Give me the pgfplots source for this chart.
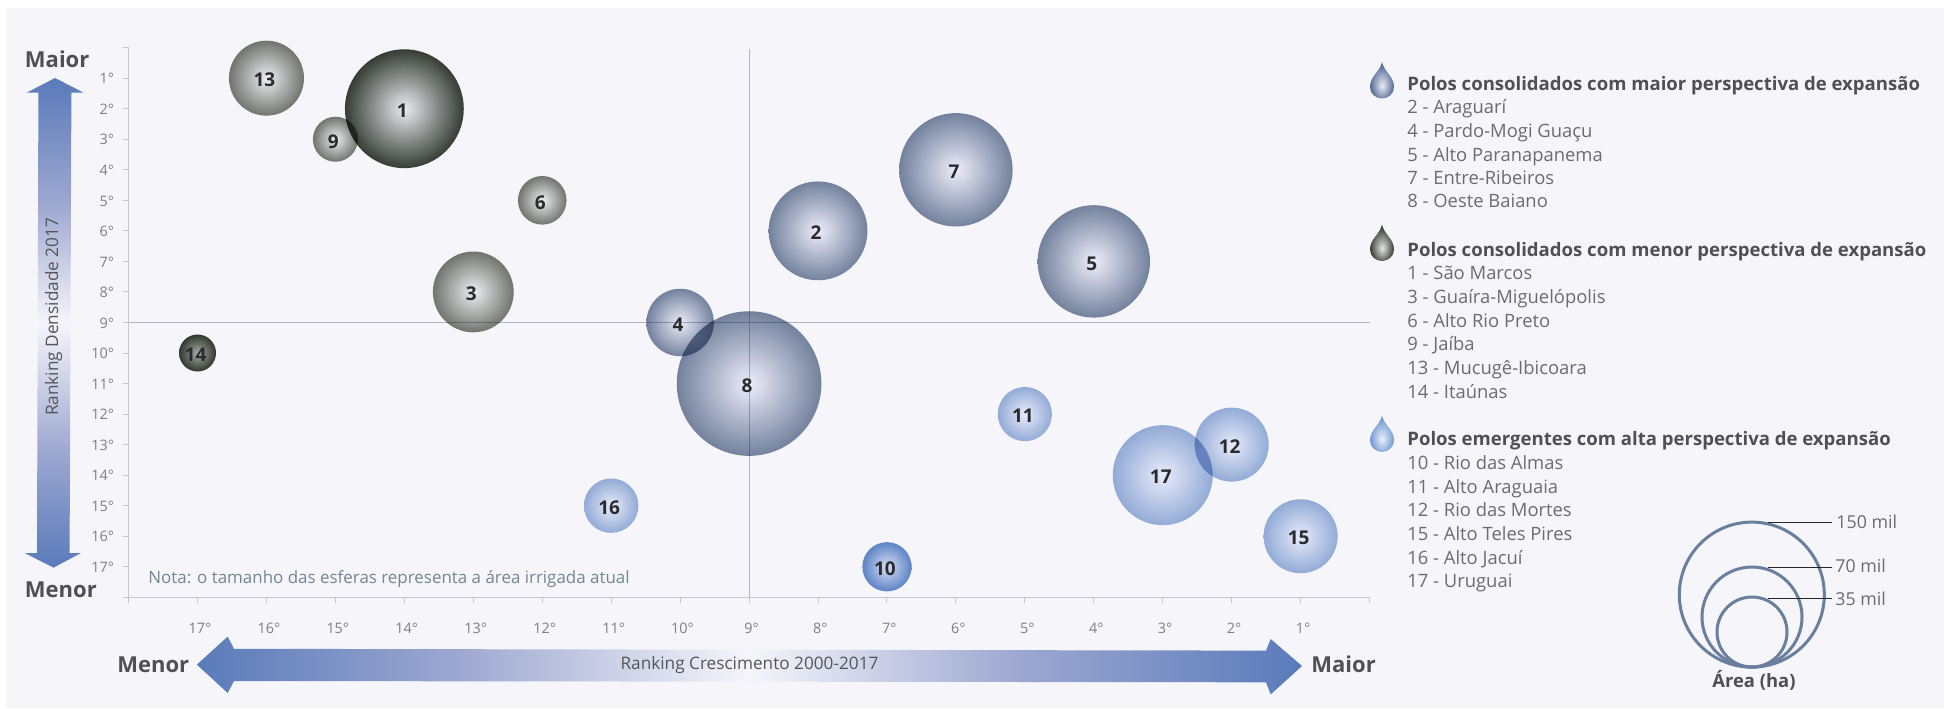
\documentclass[border=0pt]{standalone}
\usepackage{fontspec}
\setmainfont{Open Sans}
\usepackage{pgfplots}
\pgfplotsset{compat=1.18}
\usepackage{pgfplotstable}

\definecolor{panel}{HTML}{F5F5FA}
\definecolor{spine}{HTML}{C8C8D0}
\definecolor{cross}{HTML}{B4B6C2}
\definecolor{ticktxt}{HTML}{808080}
\definecolor{head}{HTML}{505054}
\definecolor{item}{HTML}{6C6C70}
\definecolor{nota}{HTML}{74868F}
\definecolor{lab}{HTML}{2B2B2E}
\definecolor{ring}{HTML}{6A7F9E}

% radial shadings: the circle's rim sits at 25bp
\newcommand{\radial}[8]{\pgfdeclareradialshading{#1}{\pgfpointorigin}{rgb(0bp)=(#2,#3,#4); rgb(25bp)=(#5,#6,#7); rgb(50bp)=(#5,#6,#7)}
  \pgfdeclareplotmark{#8}{\pgfsetblendmode{multiply}\pgfpathcircle{\pgfpointorigin}{\pgfplotmarksize}\pgfshadepath{#1}{0}\pgfusepath{discard}}}
\radial{shgrey}{0.97}{0.97}{0.97}{0.46}{0.48}{0.44}{bgrey}
\radial{shblack}{0.96}{0.96}{0.96}{0.22}{0.25}{0.21}{bblack}
\radial{shtiny}{0.68}{0.70}{0.66}{0.20}{0.23}{0.19}{btiny}
\radial{shnavy}{0.97}{0.97}{1}{0.47}{0.53}{0.63}{bnavy}
\radial{shsky}{0.95}{0.96}{1}{0.60}{0.70}{0.86}{bsky}
\radial{shdeep}{0.88}{0.91}{0.98}{0.38}{0.54}{0.79}{bdeep}

% drops: the light spot sits low in the drop
\pgfdeclareradialshading{gnavy}{\pgfpoint{0bp}{-8bp}}{rgb(0bp)=(0.92,0.92,0.96); rgb(25bp)=(0.33,0.42,0.58); rgb(50bp)=(0.33,0.42,0.58)}
\pgfdeclareradialshading{gblack}{\pgfpoint{0bp}{-8bp}}{rgb(0bp)=(0.90,0.90,0.90); rgb(25bp)=(0.22,0.25,0.21); rgb(50bp)=(0.22,0.25,0.21)}
\pgfdeclareradialshading{gsky}{\pgfpoint{0bp}{-8bp}}{rgb(0bp)=(0.92,0.94,0.98); rgb(25bp)=(0.45,0.60,0.83); rgb(50bp)=(0.45,0.60,0.83)}

% arrows: blue at the ends, near white in the middle
\pgfdeclareverticalshading{arrv}{100bp}{rgb(0bp)=(0.35,0.48,0.73); rgb(25bp)=(0.35,0.48,0.73); rgb(37bp)=(0.62,0.66,0.82); rgb(50bp)=(0.96,0.96,0.98); rgb(62bp)=(0.62,0.66,0.82); rgb(75bp)=(0.35,0.48,0.73); rgb(100bp)=(0.35,0.48,0.73)}
\pgfdeclarehorizontalshading{arrh}{100bp}{rgb(0bp)=(0.35,0.48,0.73); rgb(25bp)=(0.35,0.48,0.73); rgb(37bp)=(0.62,0.66,0.82); rgb(50bp)=(0.96,0.96,0.98); rgb(62bp)=(0.62,0.66,0.82); rgb(75bp)=(0.35,0.48,0.73); rgb(100bp)=(0.35,0.48,0.73)}

% x rank, y rank, radius in pt (1 px of the reference = 0.5 pt)
\pgfplotstableread{
x y r
16 1 18.75
15 3 11.25
12 5 12.15
13 8 20.2
}\polosgrey
\pgfplotstableread{
x y r
14 2 29.7
}\polosblack
\pgfplotstableread{
x y r
17 10 9.25
}\polostiny
\pgfplotstableread{
x y r
8 6 24.7
10 9 16.85
6 4 28.35
4 7 28.1
9 11 36.15
}\polosnavy
\pgfplotstableread{
x y r
11 15 13.6
5 12 13.55
3 14 25
2 13 18.5
1 16 18.5
}\polossky
\pgfplotstableread{
x y r
7 17 12.3
}\polosdeep
\pgfplotstableread{
x y id
14 2 1
8 6 2
13 8 3
10 9 4
4 7 5
12 5 6
6 4 7
9 11 8
15 3 9
7 17 10
5 12 11
2 13 12
16 1 13
17 10 14
1 16 15
11 15 16
3 14 17
}\rotulos

\pgfplotsset{
  bubble/.style={only marks, mark=#1, scatter,
    scatter/use mapped color={},
    visualization depends on={\thisrow{r} \as \rad},
    scatter/@pre marker code/.append style={/tikz/mark size=\rad},
    scatter/@post marker code/.append style={/tikz/mark size=2pt},
  },
}
\newcommand{\txt}[4][head]{\node[anchor=base west,inner sep=0pt,text=#1] at (#2,#3) {#4};}
\newcommand{\gota}[3]{% x centre, y top, shading
  \shade[shading=#3] (#1,#2) .. controls (#1+2,#2+10) and (#1+12,#2+14) .. (#1+12,#2+25)
    .. controls (#1+12,#2+32) and (#1+6,#2+36.5) .. (#1,#2+36.5)
    .. controls (#1-6,#2+36.5) and (#1-12,#2+32) .. (#1-12,#2+25)
    .. controls (#1-12,#2+14) and (#1-2,#2+10) .. (#1,#2) -- cycle;}

\begin{document}
\begin{tikzpicture}[x=0.5pt,y=-0.5pt]
\path[use as bounding box] (0,0) rectangle (1944,708);
\fill[white] (0,0) rectangle (1944,708);
\fill[panel] (6,8) rectangle (1944,708);

\begin{axis}[
  at={(64.3pt,-298.65pt)}, anchor=south west,
  scale only axis, width=620.5pt, height=274.85pt,
  xmin=0, xmax=18, ymin=0, ymax=18,
  x dir=reverse, y dir=reverse,
  axis lines=left, axis line style={-, spine, line width=0.6pt},
  tick style={spine, line width=0.5pt},
  tick align=outside, major tick length=2.7pt,
  xtick={0,...,18}, ytick={0,...,18},
  xticklabels={,1°,2°,3°,4°,5°,6°,7°,8°,9°,10°,11°,12°,13°,14°,15°,16°,17°,},
  yticklabels={,1°,2°,3°,4°,5°,6°,7°,8°,9°,10°,11°,12°,13°,14°,15°,16°,17°,},
  tick label style={font=\fontsize{7.2}{8}\selectfont, text=ticktxt},
  xticklabel style={yshift=-6.5pt, xshift=1.2pt},
  yticklabel style={xshift=-1pt, yshift=-0.3pt},
  clip=false,
]
\addplot[cross, line width=0.5pt] coordinates {(18,9) (0,9)};
\addplot[cross, line width=0.5pt] coordinates {(9,0.05) (9,18)};
\addplot[bubble=bgrey] table {\polosgrey};
\addplot[bubble=bblack] table {\polosblack};
\addplot[bubble=btiny] table {\polostiny};
\addplot[bubble=bnavy] table {\polosnavy};
\addplot[bubble=bsky] table {\polossky};
\addplot[bubble=bdeep] table {\polosdeep};
\addplot[only marks, mark=none, point meta=explicit symbolic,
  nodes near coords, nodes near coords align={center},
  every node near coord/.append style={font=\fontsize{9.5}{10}\selectfont\bfseries, text=lab, inner sep=0pt, xshift=-1pt, yshift=-1pt}]
  table[meta=id] {\rotulos};
\end{axis}

\node[anchor=base west,inner sep=0pt,text=nota,font=\fontsize{8.47}{10}\selectfont] at (148,583.4) {Nota: o tamanho das esferas representa a área irrigada atual};

% rank arrows
\shade[shading=arrv] (55,78) -- (83.5,92.6) -- (71.4,92.6) -- (69.6,553) -- (81,553) -- (53.6,567.6) -- (24.6,553) -- (37,553) -- (38.4,92.6) -- (26.8,92.6) -- cycle;
\shade[shading=arrh] (196.9,664.6) -- (227.7,636.6) -- (234,648.8) -- (1266,650.6) -- (1270.7,639) -- (1302,666) -- (1270.7,694.4) -- (1266,682.3) -- (234,681) -- (227.7,693) -- cycle;
\node[rotate=90,inner sep=0pt,text=item!80!black,font=\fontsize{8.6}{10}\selectfont] at (53.7,316.8) {Ranking Densidade 2017};
\node[inner sep=0pt,text=item!80!black,font=\fontsize{8.6}{10}\selectfont] at (749.5,665) {Ranking Crescimento 2000-2017};

\begin{scope}[font=\fontsize{11}{14}\selectfont\bfseries]
\txt{24.6}{67.7}{Maior}
\txt{24.6}{597.4}{Menor}
\txt{117}{672.8}{Menor}
\txt{1311}{672.8}{Maior}
\end{scope}

% legend
\gota{1382}{62}{gnavy}
\gota{1382}{224.5}{gblack}
\gota{1382}{415.4}{gsky}
\begin{scope}[font=\fontsize{9.28}{12}\selectfont\bfseries]
\txt{1407}{90.3}{Polos consolidados com maior perspectiva de expansão}
\txt{1407}{256.4}{Polos consolidados com menor perspectiva de expansão}
\txt{1407}{445.6}{Polos emergentes com alta perspectiva de expansão}
\end{scope}
\begin{scope}[font=\fontsize{9.2}{12}\selectfont]
\txt[item]{1407}{113.3}{2 - Araguarí}
\txt[item]{1407}{137}{4 - Pardo-Mogi Guaçu}
\txt[item]{1407}{161}{5 - Alto Paranapanema}
\txt[item]{1407}{184.4}{7 - Entre-Ribeiros}
\txt[item]{1407}{207.9}{8 - Oeste Baiano}
\txt[item]{1407}{279.5}{1 - São Marcos}
\txt[item]{1407}{303.3}{3 - Guaíra-Miguelópolis}
\txt[item]{1407}{327.2}{6 - Alto Rio Preto}
\txt[item]{1407}{350.2}{9 - Jaíba}
\txt[item]{1407}{374.5}{13 - Mucugê-Ibicoara}
\txt[item]{1407}{398.3}{14 - Itaúnas}
\txt[item]{1407}{469}{10 - Rio das Almas}
\txt[item]{1407}{493}{11 - Alto Araguaia}
\txt[item]{1407}{516}{12 - Rio das Mortes}
\txt[item]{1407}{540.2}{15 - Alto Teles Pires}
\txt[item]{1407}{564}{16 - Alto Jacuí}
\txt[item]{1407}{587}{17 - Uruguai}
\end{scope}
\begin{scope}[font=\fontsize{8.9}{12}\selectfont]
\txt[item]{1836}{528.7}{150 mil}
\txt[item]{1835}{572.6}{70 mil}
\txt[item]{1835}{605.8}{35 mil}
\end{scope}

% size key
\draw[ring, line width=1.5pt] (1751.8,594.6) circle[radius=72.5];
\draw[ring, line width=1.5pt] (1752,617) circle[radius=50];
\draw[ring, line width=1.5pt] (1752,632) circle[radius=35];
\draw[black!85, line width=0.35pt] (1768.4,522.3) -- (1832.3,522.3);
\draw[black!85, line width=0.35pt] (1768.4,567) -- (1832.3,567);
\draw[black!85, line width=0.35pt] (1768.4,598.6) -- (1832.3,598.6);
\node[anchor=base west,inner sep=0pt,text=head,font=\fontsize{9.2}{12}\selectfont\bfseries] at (1712,687.6) {Área (ha)};
\end{tikzpicture}
\end{document}
